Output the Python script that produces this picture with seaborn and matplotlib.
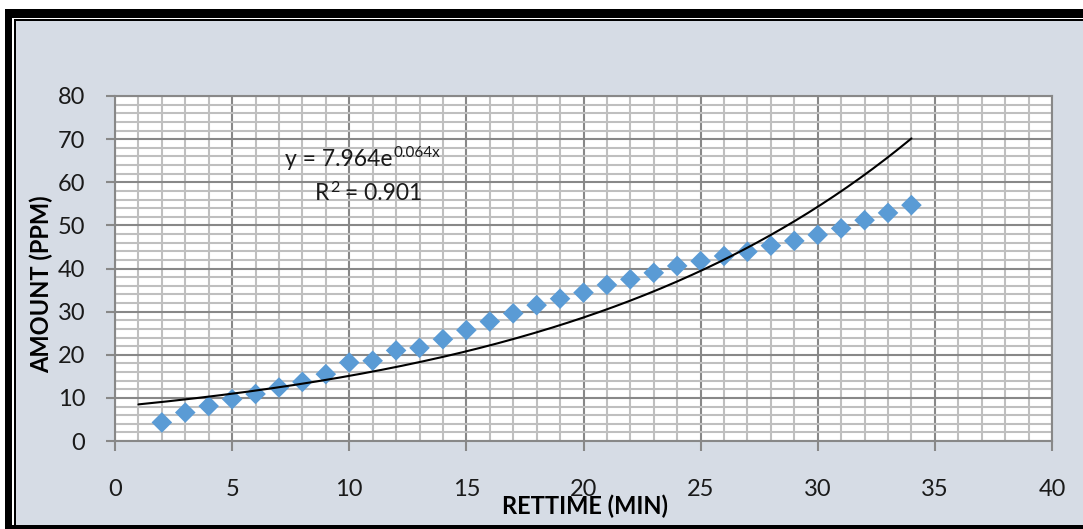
import numpy as np
import pandas as pd
import matplotlib
matplotlib.use("Agg")
import matplotlib.pyplot as plt
from matplotlib.patches import Rectangle
from matplotlib.ticker import MultipleLocator
import seaborn as sns

# Retention time (min) and measured amount (ppm)
rettime = list(range(2, 35))
amount = [4.3, 6.6, 8.1, 9.7, 10.9, 12.4, 13.7, 15.5, 18.2, 18.6, 21.0, 21.6,
          23.6, 25.7, 27.7, 29.6, 31.5, 33.0, 34.4, 36.2, 37.5, 39.0, 40.6,
          41.7, 42.9, 43.9, 45.3, 46.4, 47.8, 49.3, 51.2, 52.9, 54.7]

# Exponential trendline y = a * exp(b * x), fitted range 1..34
fit_a = 7.964
fit_b = 0.064
fit_r2 = 0.901
fit_range = (1, 34)

x_ticks = list(range(0, 41, 5))
y_ticks = list(range(0, 81, 10))

sns.set_style("white")
plt.rcParams["font.family"] = ["Lato", "DejaVu Sans"]

W, H = 1083, 529
fig = plt.figure(figsize=(W / 100, H / 100), dpi=100, facecolor="white")


def frame_rect(x0, y0, x1, y1, color):
    fig.patches.append(Rectangle((x0 / W, 1 - y1 / H), (x1 - x0) / W, (y1 - y0) / H,
                                 transform=fig.transFigure, facecolor=color,
                                 edgecolor="none", zorder=-10))


# chart frame: heavy black border, thin white line, thin black line, panel fill
frame_rect(5, 9, W + 2, H + 2, "black")
frame_rect(12, 17.5, W + 2, 524.5, "white")
frame_rect(13.8, 19, W + 2, 524.5, "black")
frame_rect(15.5, 21, W + 2, 524.5, "#d6dce5")

ax = fig.add_axes([115 / W, 1 - 441 / H, 937 / W, 345 / H])
ax.set_facecolor("white")

df = pd.DataFrame({"RETTIME": rettime, "AMOUNT": amount})
sns.scatterplot(data=df, x="RETTIME", y="AMOUNT", ax=ax, marker="D", s=110,
                color="#5a9bd5", edgecolor="none", linewidth=0, zorder=3)

tx = np.linspace(fit_range[0], fit_range[1], 300)
trend = pd.DataFrame({"x": tx, "y": fit_a * np.exp(fit_b * tx)})
sns.lineplot(data=trend, x="x", y="y", ax=ax, color="black", linewidth=1.5, zorder=4)

ax.set_xlim(0, 40)
ax.set_ylim(0, 80)
ax.set_xticks(x_ticks)
ax.set_yticks(y_ticks)
ax.xaxis.set_minor_locator(MultipleLocator(1))
ax.yaxis.set_minor_locator(MultipleLocator(2))
ax.set_axisbelow(True)
ax.grid(which="minor", color="#bfbfbf", linewidth=1.5)
ax.grid(which="major", color="#888888", linewidth=1.5)

for sp in ax.spines.values():
    sp.set_color("#888888")
    sp.set_linewidth(1.5)

ax.tick_params(which="minor", length=0)
ax.tick_params(axis="x", which="major", direction="out", length=7.5, width=1.5,
               color="#888888", pad=20, labelsize=17, labelcolor="#1a1a1a")
ax.tick_params(axis="y", which="major", direction="out", length=6.5, width=1.5,
               color="#888888", pad=15, labelsize=17, labelcolor="#1a1a1a")
ax.tick_params(bottom=True, left=True)

ax.set_xlabel("RETTIME (MIN)", fontsize=17, fontweight="bold", color="black")
ax.set_ylabel("AMOUNT (PPM)", fontsize=17, fontweight="bold", color="black")
ax.xaxis.set_label_coords((585 - 115) / 937, (441 - 506) / 345)
ax.xaxis.label.set_va("center")
ax.yaxis.set_label_coords((41 - 115) / 937, (441 - 284) / 345)
ax.yaxis.label.set_va("center")
ax.yaxis.label.set_ha("center")

# trendline equation with raised exponent
eq = ax.text(170 / 937, (441 - 159) / 345, f"y = {fit_a:.3f}e", transform=ax.transAxes,
             ha="left", va="center", fontsize=16.5, color="#1a1a1a")
ax.annotate(f"{fit_b:.3f}x", xy=(1, 0.58), xycoords=eq, xytext=(0.5, 0),
            textcoords="offset points", ha="left", va="baseline", fontsize=11,
            color="#1a1a1a")

# R squared with a raised "2"
r_txt = ax.text(200 / 937, (441 - 194) / 345, "R", transform=ax.transAxes,
                ha="left", va="center", fontsize=16.5, color="#1a1a1a")
r_sup = ax.annotate("2", xy=(1, 0.6), xycoords=r_txt, xytext=(0.3, 0),
                    textcoords="offset points", ha="left", va="baseline",
                    fontsize=11.5, color="#1a1a1a")
ax.annotate(f" = {fit_r2:.3f}", xy=(1, 0.5), xycoords=(r_sup, r_txt),
            ha="left", va="center", fontsize=16.5, color="#1a1a1a")

fig.savefig("out.png", dpi=100, facecolor=fig.get_facecolor())
